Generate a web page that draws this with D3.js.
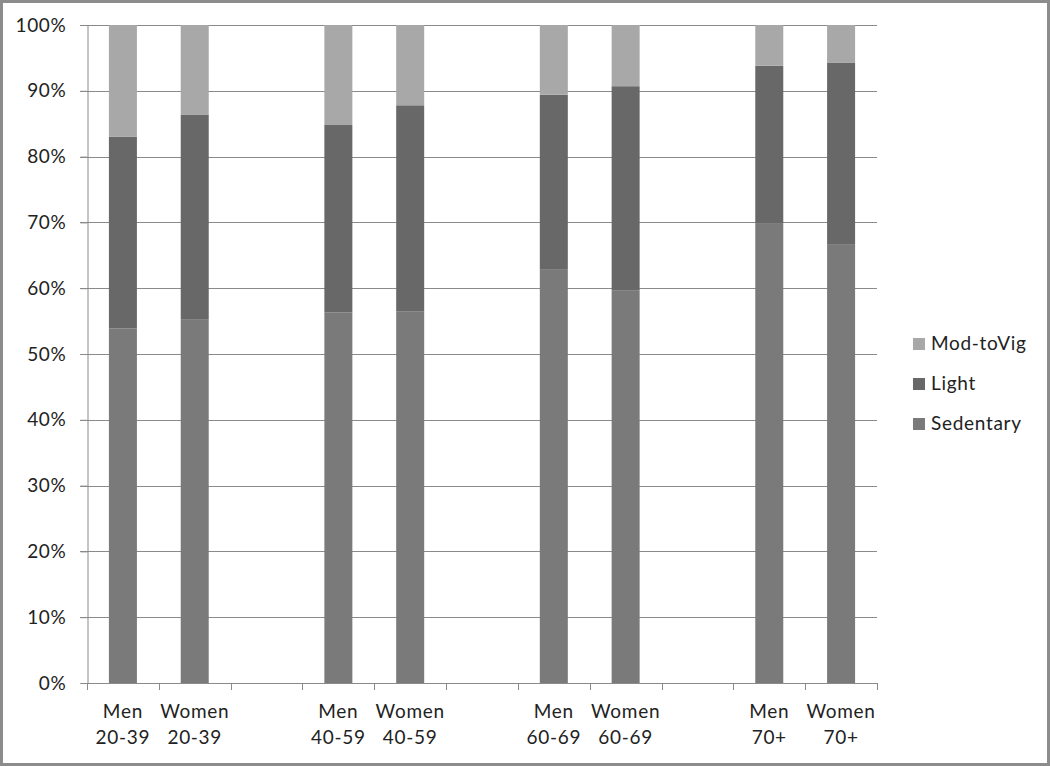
<!DOCTYPE html>
<html>
<head>
<meta charset="utf-8">
<script src="https://cdn.jsdelivr.net/npm/d3@7"></script>
<style>
  body { margin: 0; background: #fff; }
  svg { display: block; }
  text { font-family: Lato, "Open Sans", sans-serif; fill: #222; letter-spacing: 0.7px; }
</style>
</head>
<body>
<svg id="chart" width="1050" height="766"></svg>
<script>
// Slots (null = empty gap slot)
const categories = [["Men","20-39"],["Women","20-39"],null,["Men","40-59"],["Women","40-59"],null,["Men","60-69"],["Women","60-69"],null,["Men","70+"],["Women","70+"]];
const sedentary = [53.9, 55.3, null, 56.3, 56.5, null, 62.8, 59.7, null, 69.9, 66.6];
const light     = [29.1, 31.1, null, 28.5, 31.3, null, 26.6, 31.0, null, 23.9, 27.7];
const modToVig  = [17.0, 13.6, null, 15.2, 12.2, null, 10.6,  9.3, null,  6.2,  5.7];
const seriesNames = ["Sedentary", "Light", "Mod-toVig"];
const seriesColors = ["#7a7a7a", "#686868", "#a8a8a8"];
const yTicks = [0,10,20,30,40,50,60,70,80,90,100];

(function () {
const svg = d3.select("#chart");
const W = 1050, H = 766;
const FS = 19;

// outer frame
svg.append("rect").attr("x", 1.5).attr("y", 1.5).attr("width", W - 3).attr("height", H - 3)
  .attr("fill", "#fff").attr("stroke", "#8c8c8c").attr("stroke-width", 3);

const mLeft = 87, mRight = 877, mTop = 25, mBottom = 683;
const x = d3.scaleBand().domain(d3.range(categories.length)).range([mLeft, mRight]).padding(0);
const y = d3.scaleLinear().domain([0, 100]).range([mBottom, mTop]);

// gridlines
svg.append("g").selectAll("line").data(yTicks.filter(t => t > 0)).join("line")
  .attr("x1", mLeft - 7).attr("x2", mRight)
  .attr("y1", d => Math.round(y(d)) + 0.5).attr("y2", d => Math.round(y(d)) + 0.5)
  .attr("stroke", "#8a8a8a").attr("stroke-width", 1);

// y axis
const yAxis = svg.append("g").attr("transform", `translate(${mLeft + 0.5},0)`)
  .call(d3.axisLeft(y).tickValues(yTicks).tickFormat(d => d + "%").tickSize(7).tickPadding(14));
yAxis.select(".domain").attr("stroke", "#8a8a8a");
yAxis.selectAll(".tick line").attr("stroke", "#8a8a8a");
yAxis.selectAll(".tick text").attr("font-size", FS).attr("fill", "#222")
  .attr("font-family", "Lato, 'Open Sans', sans-serif");

// stacked bars
const stackData = categories.map((c, i) => c ? { i, Sedentary: sedentary[i], Light: light[i], "Mod-toVig": modToVig[i] } : null).filter(d => d);
const stacked = d3.stack().keys(seriesNames)(stackData);
const bw = 28;
const gBars = svg.append("g");
stacked.forEach((layer, k) => {
  gBars.append("g").selectAll("rect").data(layer).join("rect")
    .attr("x", d => x(d.data.i) + x.bandwidth() / 2 - bw / 2)
    .attr("width", bw)
    .attr("y", d => y(d[1]))
    .attr("height", d => y(d[0]) - y(d[1]))
    .attr("fill", seriesColors[k]);
});

// x axis
const gx = svg.append("g");
gx.append("line").attr("x1", mLeft).attr("x2", mRight).attr("y1", mBottom + 0.5).attr("y2", mBottom + 0.5)
  .attr("stroke", "#8a8a8a");
const edges = d3.range(categories.length + 1).map(i => i < categories.length ? x(i) : mRight);
gx.selectAll("line.tk").data(edges).join("line").attr("class", "tk")
  .attr("x1", d => Math.round(d) + 0.5).attr("x2", d => Math.round(d) + 0.5)
  .attr("y1", mBottom).attr("y2", mBottom + 7).attr("stroke", "#8a8a8a");
categories.forEach((c, i) => {
  if (!c) return;
  const cx = x(i) + x.bandwidth() / 2;
  gx.append("text").attr("x", cx).attr("y", 718).attr("text-anchor", "middle").attr("font-size", FS).text(c[0]);
  gx.append("text").attr("x", cx).attr("y", 744).attr("text-anchor", "middle").attr("font-size", FS).text(c[1]);
});

// legend
const legendOrder = [2, 1, 0];
const lg = svg.append("g");
legendOrder.forEach((k, j) => {
  const ly = 350 + j * 40;
  lg.append("rect").attr("x", 913).attr("y", ly - 12).attr("width", 12).attr("height", 12).attr("fill", seriesColors[k]);
  lg.append("text").attr("x", 931).attr("y", ly).attr("font-size", FS).text(seriesNames[k]);
});
})();
</script>
</body>
</html>
